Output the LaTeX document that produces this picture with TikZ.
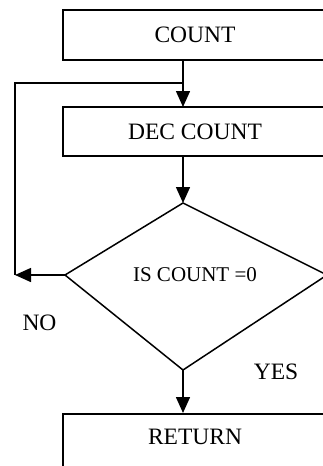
\documentclass[tikz,border=0pt]{standalone}
\usepackage{fontspec}
\setmainfont{Liberation Serif}
\usetikzlibrary{arrows.meta}
\begin{document}
\begin{tikzpicture}[x=1pt,y=1pt,
  box/.style={draw,line width=1.5pt,minimum width=264pt,inner sep=0pt,font=\fontsize{23.5}{26}\selectfont},
  lbl/.style={inner sep=0pt,font=\fontsize{23.5}{26}\selectfont},
  arr/.style={line width=1.5pt,-{Triangle[length=16pt,width=14pt]}},
  ln/.style={line width=1.5pt}]
\useasboundingbox (0,0) rectangle (323,-466);
\clip (0,0) rectangle (323,-466);
\node[box,minimum height=50pt] (cnt) at (195,-35) {COUNT};
\node[box,minimum height=49pt] (dec) at (195,-131.5) {DEC COUNT};
\coordinate (T) at (183,-203);
\coordinate (L) at (65,-275);
\coordinate (B) at (183,-370);
\coordinate (R) at (327,-275);
\draw[ln,line join=miter] (T) -- (R) -- (B) -- (L) -- cycle;
\node[lbl,font=\fontsize{21}{24}\selectfont] (q) at (195,-275) {IS COUNT =0};
\node[box,minimum height=80pt,anchor=north] (ret) at (195,-413) {};
\node[lbl] (rett) at (195,-437) {RETURN};
\coordinate (c1) at (183,-60);
\coordinate (d1) at (183,-107);
\coordinate (d2) at (183,-156);
\coordinate (r1) at (183,-413);
\coordinate (j) at (183,-83);
\coordinate (lc) at (15,-83);
\coordinate (ne) at (15,-275);
\draw[arr] (c1) -- (d1);
\draw[arr] (d2) -- (T);
\draw[arr] (B) -- (r1);
\draw[arr] (L) -- (ne);
\draw[ln] (ne) -- (lc) -- (j);
\node[lbl] (no) at (39.5,-323) {NO};
\node[lbl] (yes) at (276,-371.5) {YES};
\end{tikzpicture}
\end{document}
